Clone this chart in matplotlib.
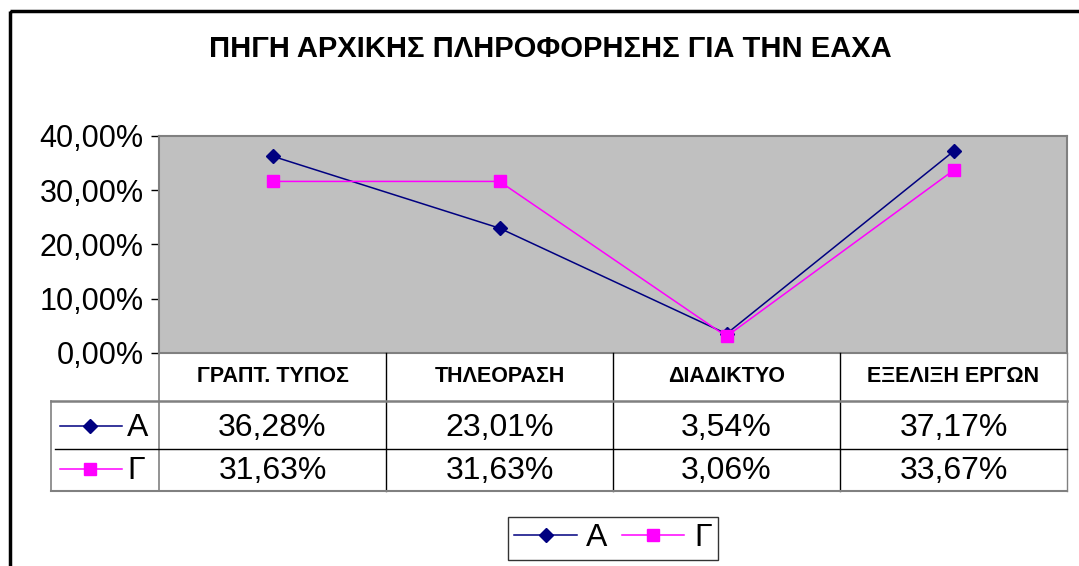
import matplotlib
matplotlib.use('Agg')
import matplotlib.pyplot as plt
from matplotlib.lines import Line2D
from matplotlib.patches import Rectangle

plt.rcParams['font.family'] = ['Liberation Sans', 'DejaVu Sans']

title = 'ΠΗΓΗ ΑΡΧΙΚΗΣ ΠΛΗΡΟΦΟΡΗΣΗΣ ΓΙΑ ΤΗΝ ΕΑΧΑ'
categories = ['ΓΡΑΠΤ. ΤΥΠΟΣ', 'ΤΗΛΕΟΡΑΣΗ', 'ΔΙΑΔΙΚΤΥΟ', 'ΕΞΕΛΙΞΗ ΕΡΓΩΝ']
series_names = ['Α', 'Γ']
values_a = [36.28, 23.01, 3.54, 37.17]
values_g = [31.63, 31.63, 3.06, 33.67]
y_ticks = [0, 10, 20, 30, 40]

W, H = 1079, 566
NAVY = '#000080'
MAGENTA = '#FF00FF'
GRID = '#808080'
FS = 22

def pct(v):
    return ('%.2f%%' % v).replace('.', ',')

fig = plt.figure(figsize=(W / 100, H / 100), dpi=100)

# plot area in pixels
L, R, T, B = 159, 1067, 136, 353
ax = fig.add_axes([L / W, 1 - B / H, (R - L) / W, (B - T) / H])
ax.set_facecolor('#C0C0C0')
x = list(range(len(categories)))
ax.plot(x, values_a, color=NAVY, lw=1.1, marker='D', ms=7.5, label=series_names[0], zorder=3)
ax.plot(x, values_g, color=MAGENTA, lw=1.1, marker='s', ms=9, label=series_names[1], zorder=3)
ax.set_xlim(-0.5, len(categories) - 0.5)
ax.set_ylim(0, 40)
ax.set_yticks(y_ticks)
ax.set_yticklabels([pct(v) for v in y_ticks], fontsize=FS, va='center_baseline')
ax.set_xticks([])
ax.tick_params(axis='y', length=6, width=1, color='black', pad=5)
for s in ax.spines.values():
    s.set_color(GRID)
    s.set_linewidth(1.5)

fig.text(550 / W, 1 - 49 / H, title, ha='center', va='center',
         fontsize=21, fontweight='bold')

# overlay in pixel coordinates for frame and data table
ov = fig.add_axes([0, 0, 1, 1], facecolor='none')
ov.set_xlim(0, W)
ov.set_ylim(H, 0)
ov.axis('off')

ov.add_patch(Rectangle((9.5, 11), 1200, 800, fill=False, ec='black', lw=2.5))

col_w = (R - L) / len(categories)
row_top, row_mid, row_bot = 401, 449, 491
tab_left = 51
ov.plot([L, L], [B, row_bot], color=GRID, lw=1.2)
for i in range(1, len(categories) + 1):
    xx = L + i * col_w
    ov.plot([xx, xx], [B, row_bot], color='black' if i < len(categories) else GRID, lw=1)
ov.plot([tab_left, R], [row_top, row_top], color=GRID, lw=1.8)
ov.plot([55, R], [row_mid, row_mid], color='black', lw=1)
ov.plot([tab_left, R], [row_bot, row_bot], color=GRID, lw=1.5)
ov.plot([tab_left, tab_left], [row_top, row_bot], color=GRID, lw=1.2)

for i, c in enumerate(categories):
    cx = L + (i + 0.5) * col_w
    ov.text(cx, 377, c, ha='center', va='center', fontsize=15.5, fontweight='bold')
    ov.text(cx, 428, pct(values_a[i]), ha='center', va='center', fontsize=23)
    ov.text(cx, 471, pct(values_g[i]), ha='center', va='center', fontsize=23)

for yy, name, col, mk, ms in [(428, series_names[0], NAVY, 'D', 7.5),
                              (471, series_names[1], MAGENTA, 's', 9)]:
    ov.plot([60, 122], [yy - 2, yy - 2], color=col, lw=1.1)
    ov.plot([90], [yy - 2], color=col, marker=mk, ms=ms, lw=0)
    ov.text(127, yy, name, ha='left', va='center', fontsize=23)

handles = [Line2D([], [], color=NAVY, lw=1.1, marker='D', ms=7.5),
           Line2D([], [], color=MAGENTA, lw=1.1, marker='s', ms=9)]
leg = fig.legend(handles, series_names, loc='upper left',
                 bbox_to_anchor=(508 / W, 1 - 517 / H), ncol=2, fontsize=23,
                 frameon=True, fancybox=False, edgecolor='black', handlelength=1.95,
                 handletextpad=0.3, columnspacing=0.45, borderpad=0.2, borderaxespad=0)
leg.get_frame().set_linewidth(1)

fig.savefig('out.png', dpi=100, facecolor='white')
